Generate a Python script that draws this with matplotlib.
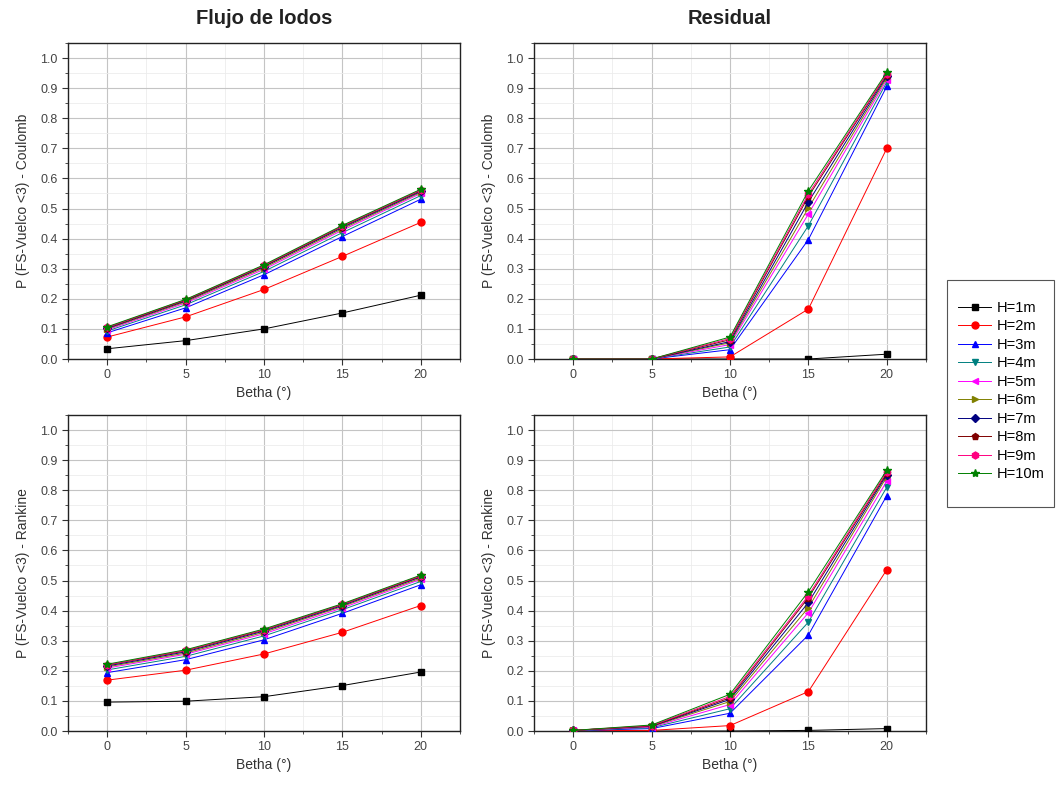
import matplotlib
matplotlib.use("Agg")
import matplotlib.pyplot as plt
from matplotlib.patches import Rectangle
from matplotlib.ticker import MultipleLocator

plt.rcParams['font.family'] = ['Liberation Sans', 'DejaVu Sans']

betha = [0, 5, 10, 15, 20]
labels = ['H=1m', 'H=2m', 'H=3m', 'H=4m', 'H=5m',
          'H=6m', 'H=7m', 'H=8m', 'H=9m', 'H=10m']

# Flujo de lodos - Coulomb
flujo_coulomb = [
    [0.034, 0.061, 0.100, 0.153, 0.212],
    [0.073, 0.140, 0.231, 0.341, 0.454],
    [0.087, 0.170, 0.280, 0.407, 0.531],
    [0.093, 0.180, 0.291, 0.420, 0.543],
    [0.097, 0.186, 0.298, 0.428, 0.550],
    [0.100, 0.190, 0.303, 0.433, 0.554],
    [0.102, 0.193, 0.307, 0.437, 0.557],
    [0.104, 0.195, 0.309, 0.440, 0.560],
    [0.105, 0.197, 0.311, 0.442, 0.562],
    [0.107, 0.198, 0.313, 0.444, 0.564],
]

# Residual - Coulomb
residual_coulomb = [
    [0.0, 0.0, 0.000, 0.000, 0.016],
    [0.0, 0.0, 0.007, 0.166, 0.700],
    [0.0, 0.0, 0.031, 0.397, 0.906],
    [0.0, 0.0, 0.040, 0.443, 0.920],
    [0.0, 0.0, 0.048, 0.482, 0.928],
    [0.0, 0.0, 0.054, 0.502, 0.935],
    [0.0, 0.0, 0.058, 0.522, 0.940],
    [0.0, 0.0, 0.064, 0.540, 0.945],
    [0.0, 0.0, 0.068, 0.548, 0.948],
    [0.0, 0.0, 0.073, 0.559, 0.953],
]

# Flujo de lodos - Rankine
flujo_rankine = [
    [0.096, 0.099, 0.114, 0.151, 0.196],
    [0.169, 0.202, 0.256, 0.328, 0.417],
    [0.194, 0.237, 0.303, 0.391, 0.486],
    [0.203, 0.248, 0.316, 0.403, 0.497],
    [0.209, 0.255, 0.323, 0.409, 0.504],
    [0.213, 0.259, 0.328, 0.414, 0.508],
    [0.216, 0.263, 0.332, 0.417, 0.512],
    [0.219, 0.266, 0.335, 0.420, 0.514],
    [0.220, 0.268, 0.337, 0.421, 0.516],
    [0.222, 0.270, 0.339, 0.423, 0.518],
]

# Residual - Rankine
residual_rankine = [
    [0.000, 0.000, 0.000, 0.002, 0.008],
    [0.001, 0.002, 0.018, 0.131, 0.536],
    [0.001, 0.008, 0.059, 0.319, 0.782],
    [0.001, 0.011, 0.074, 0.362, 0.810],
    [0.002, 0.013, 0.088, 0.393, 0.830],
    [0.002, 0.015, 0.098, 0.410, 0.845],
    [0.002, 0.016, 0.105, 0.427, 0.852],
    [0.002, 0.017, 0.110, 0.443, 0.857],
    [0.002, 0.018, 0.115, 0.450, 0.862],
    [0.002, 0.020, 0.122, 0.463, 0.867],
]

colors = ['#000000', '#ff0000', '#0000ff', '#008080', '#ff00ff',
          '#808000', '#000080', '#800000', '#ff0080', '#008000']
markers = ['s', 'o', '^', 'v', '<', '>', 'D', 'p', 'h', '*']
msizes = [4.5, 5, 5, 5, 5, 5, 4, 5, 5, 6]

fig = plt.figure(figsize=(10.61, 7.86), dpi=100)

W, H = 1061, 786


def make_ax(x0, y0, x1, y1):
    return fig.add_axes([x0 / W, 1 - y1 / H, (x1 - x0) / W, (y1 - y0) / H])


panels = [
    (make_ax(68, 43, 460, 359), flujo_coulomb, 'P (FS-Vuelco <3) - Coulomb'),
    (make_ax(534, 43, 926, 359), residual_coulomb, 'P (FS-Vuelco <3) - Coulomb'),
    (make_ax(68, 415, 460, 731), flujo_rankine, 'P (FS-Vuelco <3) - Rankine'),
    (make_ax(534, 415, 926, 731), residual_rankine, 'P (FS-Vuelco <3) - Rankine'),
]

for ax, data, ylab in panels:
    for i, vals in enumerate(data):
        ax.plot(betha, vals, color=colors[i], marker=markers[i], markersize=msizes[i],
                linewidth=0.7, label=labels[i], zorder=3 + i * 0.1)
    ax.set_xlim(-2.5, 22.5)
    ax.set_ylim(0, 1.05)
    ax.xaxis.set_major_locator(MultipleLocator(5))
    ax.xaxis.set_minor_locator(MultipleLocator(2.5))
    ax.yaxis.set_major_locator(MultipleLocator(0.1))
    ax.yaxis.set_minor_locator(MultipleLocator(0.05))
    ax.yaxis.set_major_formatter(plt.FormatStrFormatter('%.1f'))
    ax.grid(which='major', color='#c4c4c4', linewidth=0.8)
    ax.grid(which='minor', color='#ececec', linewidth=0.6)
    ax.set_axisbelow(True)
    ax.tick_params(which='major', direction='out', length=4, width=0.8,
                   labelsize=9, colors='#333333', labelcolor='#444444')
    ax.tick_params(which='minor', direction='out', length=2, width=0.6, colors='#333333')
    for s in ax.spines.values():
        s.set_linewidth(1.0)
        s.set_color('#222222')
    ax.set_xlabel('Betha (°)', fontsize=10, color='#333333', labelpad=3)
    ax.set_ylabel(ylab, fontsize=10, color='#333333', labelpad=7)

fig.text(264 / W, 1 - 18 / H, 'Flujo de lodos', ha='center', va='center',
         fontsize=14.5, fontweight='bold', color='#222222')
fig.text(730 / W, 1 - 18 / H, 'Residual', ha='center', va='center',
         fontsize=14.5, fontweight='bold', color='#222222')

# legend box drawn separately (padding is larger vertically than horizontally)
fig.patches.append(Rectangle((947 / W, 1 - 507 / H), 107 / W, 227 / H,
                             transform=fig.transFigure, fill=False,
                             edgecolor='#555555', linewidth=0.8))

handles, labs = panels[0][0].get_legend_handles_labels()
leg = fig.legend(handles, labs, loc='center', bbox_to_anchor=(1001 / W, 1 - 391 / H),
                 fontsize=10.5, frameon=False, borderpad=0.2,
                 handlelength=2.3, labelspacing=0.31, handletextpad=0.35,
                 borderaxespad=0)

fig.savefig('out.png', dpi=100)
